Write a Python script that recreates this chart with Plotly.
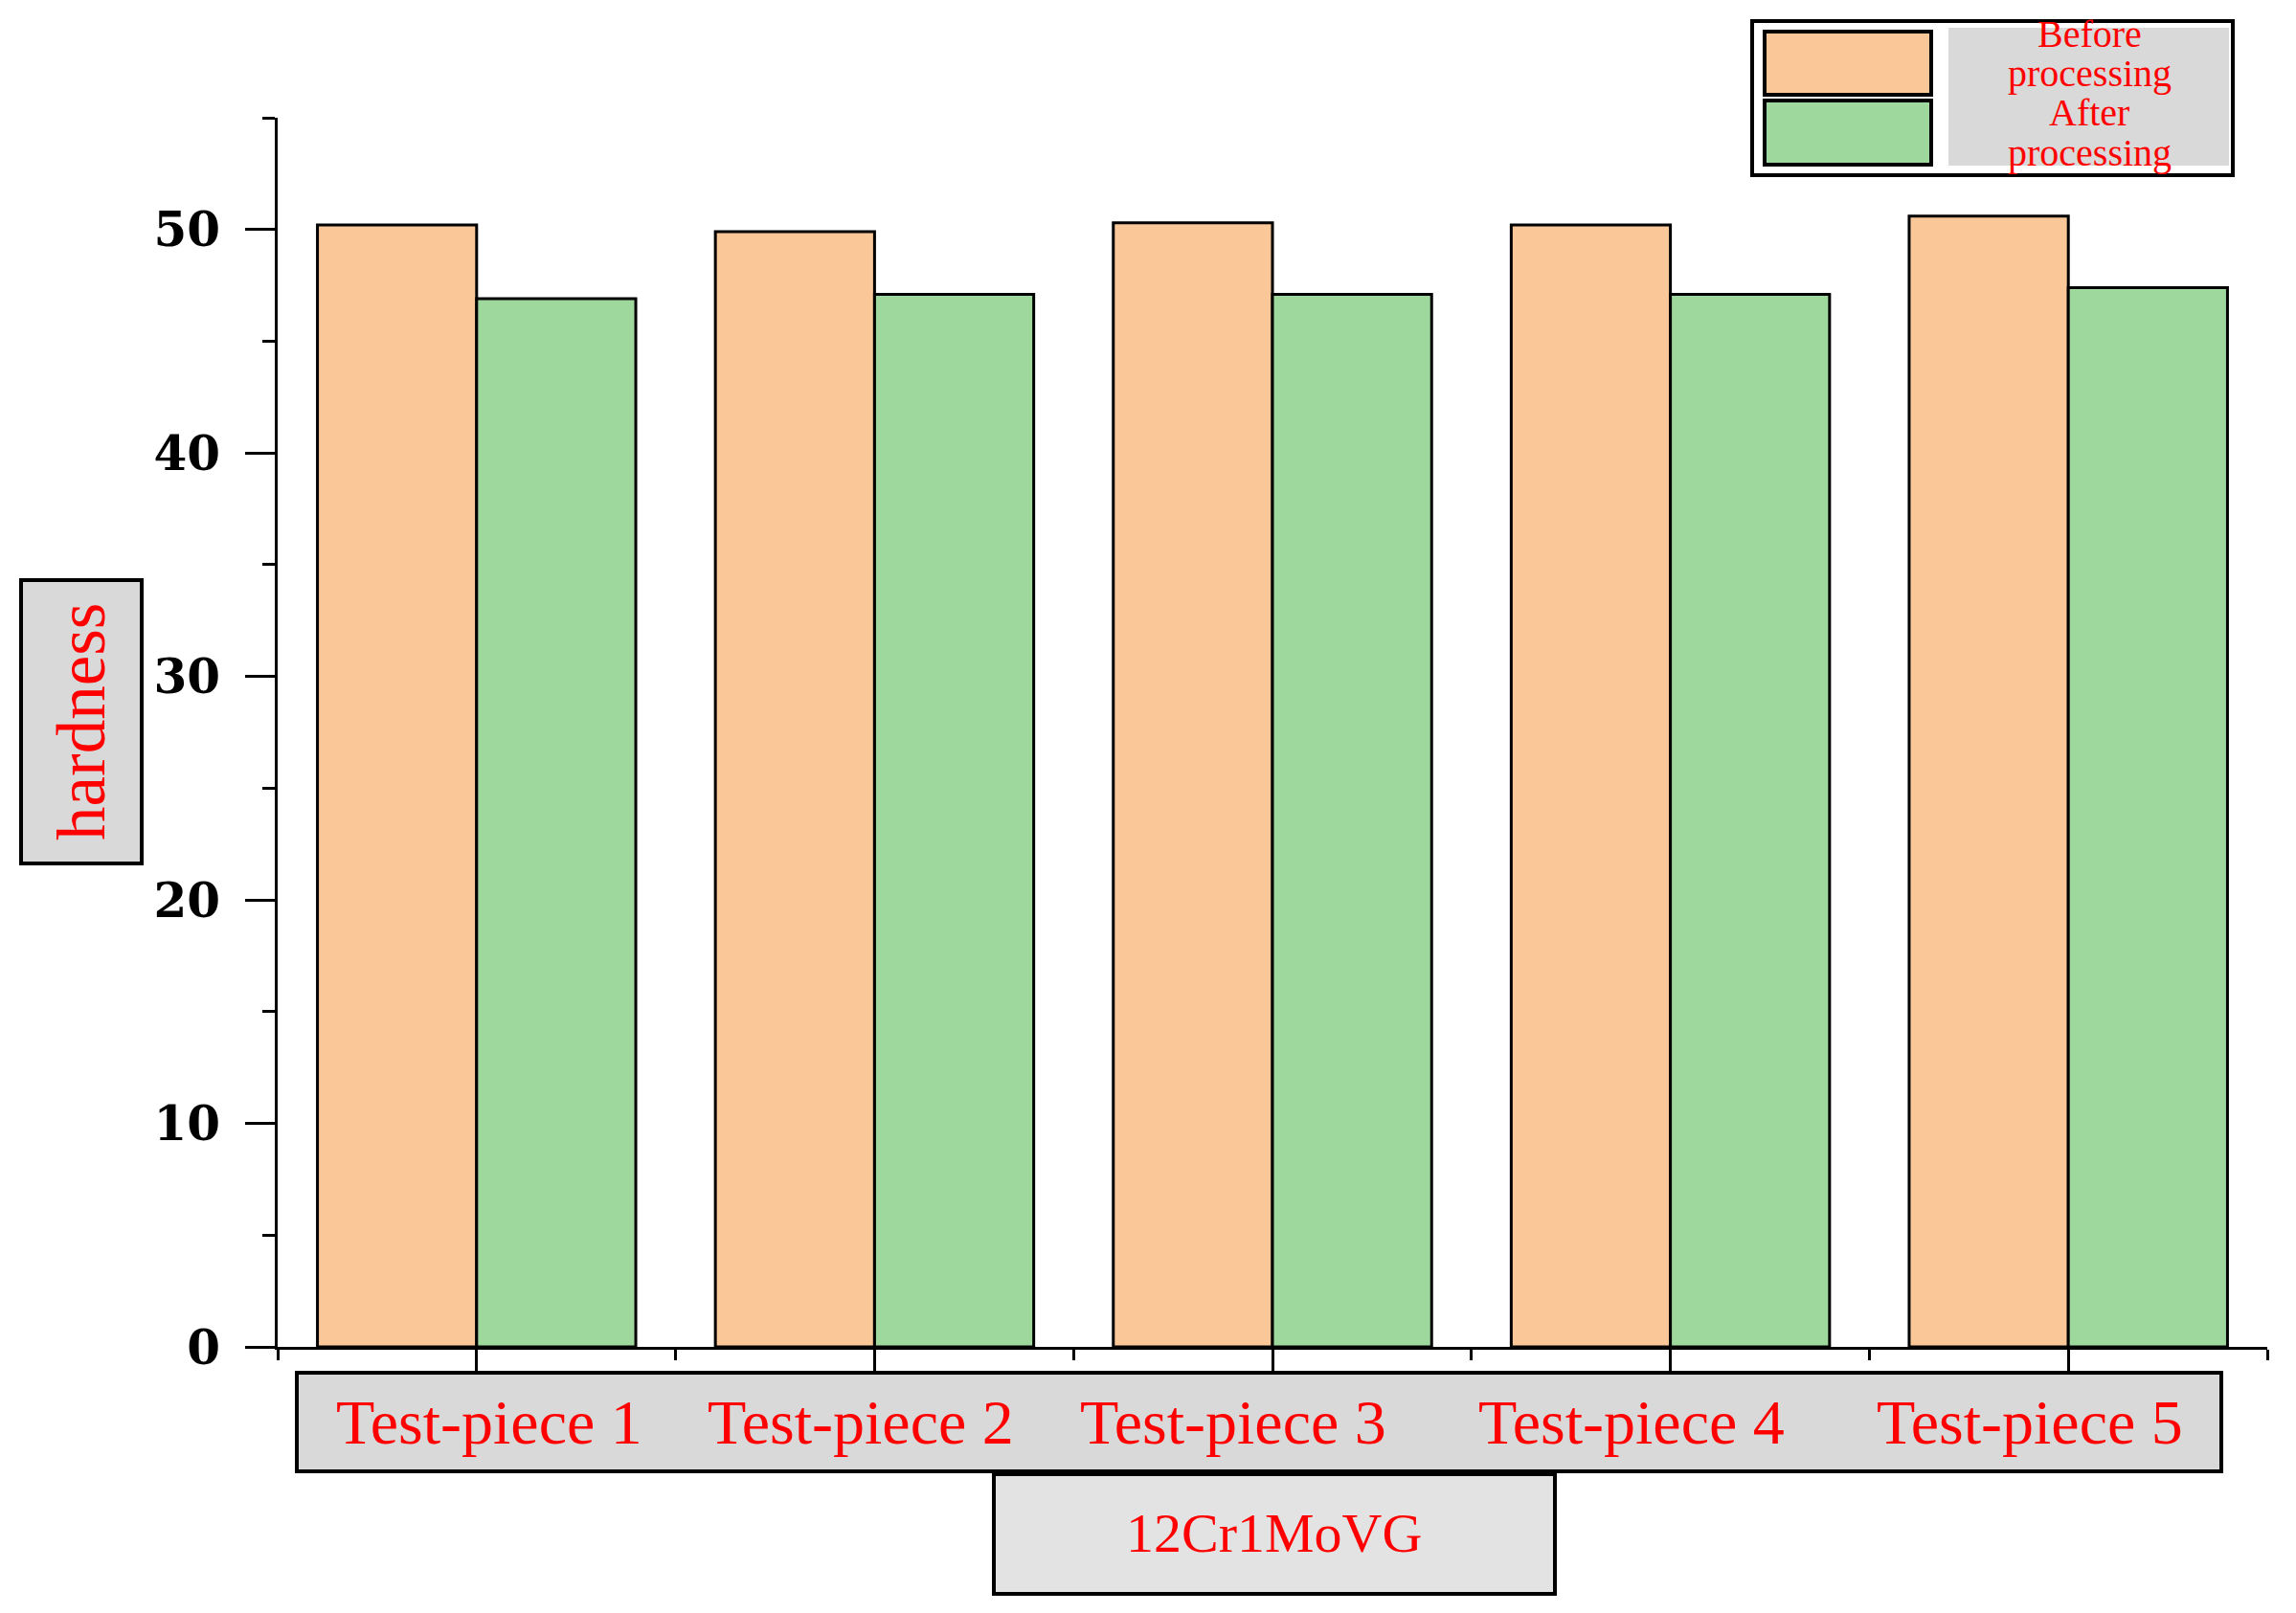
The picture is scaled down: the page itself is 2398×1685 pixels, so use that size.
import plotly.graph_objects as go

# data
pieces = ["Test-piece 1", "Test-piece 2", "Test-piece 3", "Test-piece 4", "Test-piece 5"]
before = [50.2, 49.9, 50.3, 50.2, 50.6]
after = [46.9, 47.1, 47.1, 47.1, 47.4]
series_names = ["Before processing", "After processing"]
material = "12Cr1MoVG"
y_title = "hardness"

ORANGE = "#FAC898"
GREEN = "#9ED89D"
GREY = "#D9D9D9"
RED = "#FF0000"
SERIF = "Liberation Serif"

W, H = 2398, 1685
# plot area in pixels
L, R, T, B = 290, 2368, 123, 1407


def px(x):
    return (x - L) / (R - L)


def py(y):
    return (B - y) / (B - T)


def box(x0, y0, x1, y1, fill, lw=4):
    return dict(type="rect", xref="paper", yref="paper",
                x0=px(x0), x1=px(x1), y0=py(y1), y1=py(y0),
                fillcolor=fill, line=dict(color="black", width=lw), layer="above")


def label(text, x, y, size, angle=0):
    return dict(text=text, xref="paper", yref="paper", x=px(x), y=py(y),
                xanchor="center", yanchor="middle", showarrow=False, textangle=angle,
                font=dict(family=SERIF, size=size, color=RED))


idx = list(range(len(pieces)))

fig = go.Figure()
for name, vals, col in zip(series_names, [before, after], [ORANGE, GREEN]):
    fig.add_trace(go.Bar(
        x=idx, y=vals, name=name, showlegend=False,
        marker=dict(color=col, line=dict(color="black", width=3)),
    ))

shapes = [
    box(310, 1434, 2320, 1537, GREY),          # category label strip
    box(1038, 1540, 1624, 1665, "#E3E3E3"),    # material box
    box(22, 606, 148, 902, GREY),              # y title box
    box(1830, 22, 2332, 183, "white"),         # legend frame
    box(1843, 33, 2017, 99, ORANGE),
    box(1843, 105, 2017, 172, GREEN),
    box(2035, 29, 2328, 173, GREY, lw=0),
]

label_x = [511, 899, 1288, 1704, 2120]
annotations = [label(p, x, 1485, 66) for p, x in zip(pieces, label_x)]
annotations.append(label(material, 1330, 1601, 58))
annotations.append(label(y_title, 85, 754, 71, angle=-90))
legend_lines = []
for n in series_names:
    legend_lines += n.split(" ")
for t, y in zip(legend_lines, [36, 77, 118, 159]):
    annotations.append(label(t, 2182, y, 40))

fig.update_layout(
    width=W, height=H,
    margin=dict(l=L, r=W - R, t=T, b=H - B, autoexpand=False),
    paper_bgcolor="white", plot_bgcolor="white",
    barmode="group", bargap=0.2, bargroupgap=0,
    shapes=shapes, annotations=annotations,
    showlegend=False,
)
fig.update_xaxes(
    range=[-0.5, len(pieces) - 0.5], tickmode="array", tickvals=idx,
    showticklabels=False, ticks="outside", ticklen=27, tickwidth=3, tickcolor="black",
    showline=True, linecolor="black", linewidth=3, showgrid=False, zeroline=False,
    minor=dict(tickmode="linear", tick0=0.5, dtick=1, ticks="outside",
               ticklen=11, tickwidth=3, tickcolor="black", showgrid=False),
)
fig.update_yaxes(
    range=[0, 55], tickmode="linear", tick0=0, dtick=10,
    ticks="outside", ticklen=31, tickwidth=3, tickcolor="black",
    tickfont=dict(family="DejaVu Serif", size=50, color="black", weight="bold"),
    ticklabelstandoff=16,
    showline=True, linecolor="black", linewidth=3, showgrid=False, zeroline=False,
    minor=dict(tickmode="linear", tick0=0, dtick=5, ticks="outside",
               ticklen=13, tickwidth=3, tickcolor="black", showgrid=False),
)

fig.write_html("out.html", config={"displayModeBar": False},
               post_script="document.body.style.margin='0';")
